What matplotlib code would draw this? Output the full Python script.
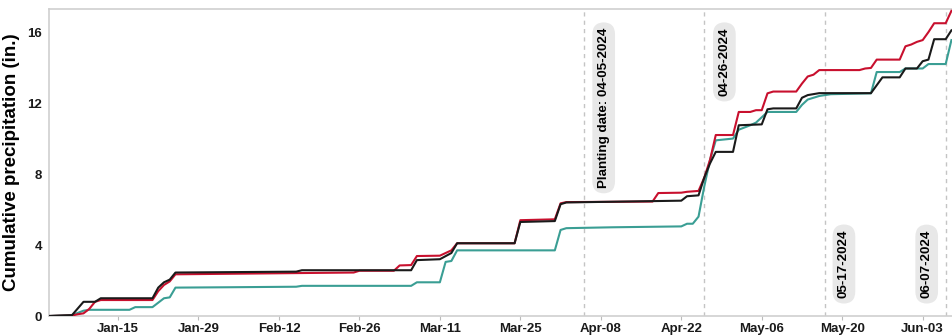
import matplotlib
matplotlib.use("Agg")
import matplotlib.pyplot as plt
import matplotlib.dates as mdates
import numpy as np

plt.rcParams['font.family'] = ['Liberation Sans', 'DejaVu Sans']
plt.rcParams['font.weight'] = 'bold'

# ---- data ----
black_dates = ['2024-01-03', '2024-01-07', '2024-01-09', '2024-01-11', '2024-01-12', '2024-01-21',
               '2024-01-22', '2024-01-23', '2024-01-24', '2024-01-25', '2024-02-15', '2024-02-16',
               '2024-03-06', '2024-03-07', '2024-03-11', '2024-03-13', '2024-03-14', '2024-03-24',
               '2024-03-25', '2024-03-31', '2024-04-01', '2024-04-02', '2024-04-22', '2024-04-23',
               '2024-04-25', '2024-04-26', '2024-04-27', '2024-04-28', '2024-05-01', '2024-05-02',
               '2024-05-06', '2024-05-07', '2024-05-08', '2024-05-12', '2024-05-13', '2024-05-14',
               '2024-05-16', '2024-05-25', '2024-05-27', '2024-05-30', '2024-05-31', '2024-06-02',
               '2024-06-03', '2024-06-04', '2024-06-05', '2024-06-07', '2024-06-08']
black_vals = [0.0, 0.05, 0.8, 0.8, 1.0, 1.0,
              1.6, 1.9, 2.05, 2.45, 2.5, 2.58,
              2.58, 3.15, 3.2, 3.55, 4.1, 4.1,
              5.3, 5.35, 6.3, 6.4, 6.5, 6.75,
              6.8, 7.8, 8.6, 9.25, 9.25, 10.75,
              10.8, 11.65, 11.7, 11.7, 12.3, 12.45,
              12.56, 12.56, 13.45, 13.45, 13.95, 13.95,
              14.36, 14.45, 15.6, 15.6, 16.1]

red_dates = ['2024-01-03', '2024-01-07', '2024-01-08', '2024-01-09', '2024-01-10', '2024-01-11',
             '2024-01-12', '2024-01-21', '2024-01-22', '2024-01-23', '2024-01-24', '2024-01-25',
             '2024-02-25', '2024-02-26', '2024-03-03', '2024-03-04', '2024-03-06', '2024-03-07',
             '2024-03-11', '2024-03-12', '2024-03-13', '2024-03-14', '2024-03-24', '2024-03-25',
             '2024-03-31', '2024-04-01', '2024-04-02', '2024-04-17', '2024-04-18', '2024-04-22',
             '2024-04-23', '2024-04-25', '2024-04-26', '2024-04-27', '2024-04-28', '2024-05-01',
             '2024-05-02', '2024-05-04', '2024-05-05', '2024-05-06', '2024-05-07', '2024-05-08',
             '2024-05-12', '2024-05-13', '2024-05-14', '2024-05-15', '2024-05-16', '2024-05-23',
             '2024-05-24', '2024-05-25', '2024-05-26', '2024-05-30', '2024-05-31', '2024-06-01',
             '2024-06-02', '2024-06-03', '2024-06-04', '2024-06-05', '2024-06-07', '2024-06-08']
red_vals = [0.0, 0.03, 0.1, 0.15, 0.4, 0.8,
            0.9, 0.9, 1.4, 1.75, 1.95, 2.35,
            2.45, 2.55, 2.55, 2.85, 2.87, 3.38,
            3.4, 3.55, 3.7, 4.1, 4.1, 5.4,
            5.45, 6.35, 6.42, 6.45, 6.93, 6.95,
            7.0, 7.05, 7.8, 8.8, 10.2, 10.2,
            11.5, 11.5, 11.6, 11.6, 12.55, 12.65,
            12.65, 13.1, 13.5, 13.6, 13.86, 13.86,
            13.95, 13.98, 14.45, 14.45, 15.2, 15.3,
            15.45, 15.55, 16.0, 16.5, 16.5, 17.2]

teal_dates = ['2024-01-03', '2024-01-07', '2024-01-09', '2024-01-10', '2024-01-17', '2024-01-18',
              '2024-01-21', '2024-01-22', '2024-01-23', '2024-01-24', '2024-01-25', '2024-02-03',
              '2024-02-15', '2024-02-16', '2024-03-06', '2024-03-07', '2024-03-11', '2024-03-12',
              '2024-03-13', '2024-03-14', '2024-03-31', '2024-04-01', '2024-04-02', '2024-04-10',
              '2024-04-22', '2024-04-23', '2024-04-24', '2024-04-25', '2024-04-26', '2024-04-27',
              '2024-04-28', '2024-05-01', '2024-05-02', '2024-05-04', '2024-05-05', '2024-05-06',
              '2024-05-07', '2024-05-12', '2024-05-13', '2024-05-14', '2024-05-16', '2024-05-18',
              '2024-05-25', '2024-05-26', '2024-05-30', '2024-05-31', '2024-06-03', '2024-06-04',
              '2024-06-07', '2024-06-08']
teal_vals = [0.0, 0.05, 0.3, 0.35, 0.35, 0.5,
             0.5, 0.75, 1.0, 1.05, 1.6, 1.62,
             1.65, 1.7, 1.7, 1.9, 1.9, 3.05,
             3.1, 3.7, 3.7, 4.85, 4.95, 5.0,
             5.05, 5.2, 5.2, 5.6, 7.3, 8.8,
             9.9, 10.0, 10.5, 10.75, 10.9, 11.2,
             11.5, 11.5, 11.9, 12.2, 12.4, 12.5,
             12.55, 13.75, 13.75, 13.95, 13.95, 14.2,
             14.2, 15.55]

event_dates = ['2024-04-05', '2024-04-26', '2024-05-17', '2024-06-07']
event_labels = ['Planting date: 04-05-2024', '04-26-2024', '05-17-2024', '06-07-2024']

xtick_dates = ['2024-01-15', '2024-01-29', '2024-02-12', '2024-02-26', '2024-03-11', '2024-03-25',
               '2024-04-08', '2024-04-22', '2024-05-06', '2024-05-20', '2024-06-03']
ytick_vals = [0, 4, 8, 12, 16]

# ---- plot ----
def d(lst):
    return np.array(lst, dtype='datetime64[D]')

fig = plt.figure(figsize=(9.52, 3.35), dpi=100)
ax = fig.add_axes([0.0515, 0.0567, 0.9485, 0.9163])

ax.plot(d(teal_dates), teal_vals, color='#3a9e94', lw=1.5, zorder=3)
ax.plot(d(red_dates), red_vals, color='#c8102e', lw=1.5, zorder=4)
ax.plot(d(black_dates), black_vals, color='#1a1a1a', lw=1.5, zorder=5)

box = dict(boxstyle='round,pad=0.4,rounding_size=0.9', fc='#e8e8e8', ec='none')
offsets = [3.5, 3.5, 3.3, -3.3]
tops = [True, True, False, False]
for dt, lab, off, top in zip(event_dates, event_labels, offsets, tops):
    xd = np.datetime64(dt)
    ax.axvline(xd, color='#c4c4c4', lw=1.0, ls=(0, (3, 3)), zorder=1)
    xt = mdates.date2num(xd) + off
    if top:
        ax.text(xt, 16.25, lab, rotation=90, ha='center', va='top', fontsize=9.6,
                fontweight='bold', bbox=box, zorder=6)
    else:
        ax.text(xt, 1.0, lab, rotation=90, ha='center', va='bottom', fontsize=9.6,
                fontweight='bold', bbox=box, zorder=6)

ax.set_xlim(mdates.date2num(np.datetime64('2024-01-03')), mdates.date2num(np.datetime64('2024-06-08')) + 0.1)
ax.set_ylim(0, 17.3)
ax.set_xticks(d(xtick_dates))
ax.xaxis.set_major_formatter(mdates.DateFormatter('%b-%d'))
ax.set_yticks(ytick_vals)
ax.tick_params(axis='x', length=3, color='#bbbbbb', labelsize=9.5, pad=2)
ax.tick_params(axis='y', length=0, labelsize=9.5, pad=5)
for lbl in ax.get_xticklabels() + ax.get_yticklabels():
    lbl.set_fontweight('bold')
    lbl.set_color('#1a1a1a')

for side in ['left', 'top', 'bottom']:
    ax.spines[side].set_color('#cfcfcf')
    ax.spines[side].set_linewidth(1.2)
ax.spines['right'].set_visible(False)

ax.set_ylabel('Cumulative precipitation (in.)', fontsize=13.5, fontweight='bold', labelpad=5)

fig.savefig('out.png', dpi=100)
